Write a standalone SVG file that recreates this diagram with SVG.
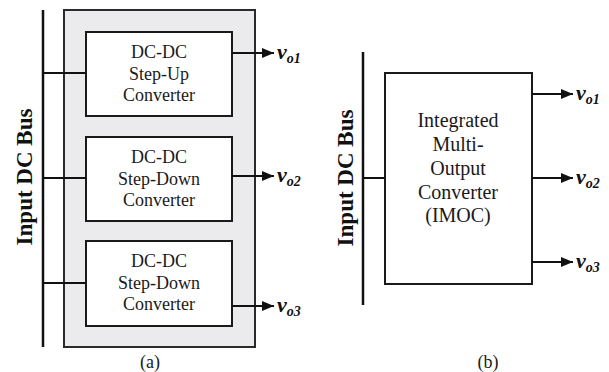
<svg xmlns="http://www.w3.org/2000/svg" width="609" height="372" viewBox="0 0 609 372">
  <defs>
    <style>
      .box { fill: #ffffff; stroke: #1a1a1a; stroke-width: 2; }
      .frame { fill: #ebebed; stroke: #2a2a2a; stroke-width: 2; }
      .wire { fill: none; stroke: #111111; stroke-width: 2; }
      .bus { fill: none; stroke: #111111; stroke-width: 2.5; }
      .lbl { font-family: "Liberation Serif", "Times New Roman", serif; font-size: 18px; fill: #1a1a1a; text-anchor: middle; }
      .lbl2 { font-family: "Liberation Serif", "Times New Roman", serif; font-size: 20px; fill: #1a1a1a; text-anchor: middle; }
      .busl { font-family: "Liberation Serif", "Times New Roman", serif; font-size: 23px; font-weight: bold; fill: #111111; text-anchor: middle; }
      .vout { font-family: "Liberation Serif", "Times New Roman", serif; font-size: 22px; font-weight: bold; font-style: italic; fill: #111111; }
      .sub { font-size: 14px; }
      .cap { font-family: "Liberation Serif", "Times New Roman", serif; font-size: 18px; fill: #1a1a1a; text-anchor: middle; }
    </style>
    <marker id="arr" markerWidth="12" markerHeight="10" refX="12" refY="5" orient="auto" markerUnits="userSpaceOnUse">
      <path d="M0,0 L12,5 L0,10 Z" fill="#111111"/>
    </marker>
  </defs>

  <!-- (a) separate converters -->
  <g id="frame-a">
    <rect class="frame" x="64" y="10" width="191" height="337"/>
  </g>
  <g id="bus-a">
    <line class="bus" x1="43" y1="10" x2="43" y2="347"/>
    <text class="busl" transform="translate(32,177) rotate(-90)">Input DC Bus</text>
  </g>
  <g id="conv-up">
    <rect class="box" x="86" y="32" width="146" height="84"/>
    <text class="lbl" x="159" y="58">DC-DC</text>
    <text class="lbl" x="159" y="80">Step-Up</text>
    <text class="lbl" x="159" y="101">Converter</text>
  </g>
  <g id="conv-down1">
    <rect class="box" x="86" y="137" width="146" height="84"/>
    <text class="lbl" x="159" y="163">DC-DC</text>
    <text class="lbl" x="159" y="185">Step-Down</text>
    <text class="lbl" x="159" y="206">Converter</text>
  </g>
  <g id="conv-down2">
    <rect class="box" x="86" y="241" width="146" height="85"/>
    <text class="lbl" x="159" y="267">DC-DC</text>
    <text class="lbl" x="159" y="289">Step-Down</text>
    <text class="lbl" x="159" y="310">Converter</text>
  </g>
  <g id="outputs-a">
    <text class="vout" x="277" y="59">v<tspan class="sub" dy="4">o1</tspan></text>
    <text class="vout" x="277" y="182">v<tspan class="sub" dy="4">o2</tspan></text>
    <text class="vout" x="277" y="312">v<tspan class="sub" dy="4">o3</tspan></text>
  </g>
  <g id="connectors-a">
    <line class="wire" x1="43" y1="73" x2="86" y2="73"/>
    <line class="wire" x1="43" y1="178" x2="86" y2="178"/>
    <line class="wire" x1="43" y1="283" x2="86" y2="283"/>
    <line class="wire" x1="232" y1="53" x2="274" y2="53" marker-end="url(#arr)"/>
    <line class="wire" x1="232" y1="176" x2="274" y2="176" marker-end="url(#arr)"/>
    <line class="wire" x1="232" y1="306" x2="274" y2="306" marker-end="url(#arr)"/>
  </g>
  <text class="cap" x="150" y="368">(a)</text>

  <!-- (b) integrated converter -->
  <g id="bus-b">
    <line class="bus" x1="363" y1="52" x2="363" y2="305"/>
    <text class="busl" transform="translate(353,178) rotate(-90)">Input DC Bus</text>
  </g>
  <g id="imoc">
    <rect class="box" x="385" y="73" width="147" height="211"/>
    <text class="lbl2" x="458" y="127">Integrated</text>
    <text class="lbl2" x="458" y="151">Multi-</text>
    <text class="lbl2" x="458" y="175">Output</text>
    <text class="lbl2" x="458" y="199">Converter</text>
    <text class="lbl2" x="458" y="222">(IMOC)</text>
  </g>
  <g id="outputs-b">
    <text class="vout" x="576" y="100">v<tspan class="sub" dy="4">o1</tspan></text>
    <text class="vout" x="576" y="184">v<tspan class="sub" dy="4">o2</tspan></text>
    <text class="vout" x="576" y="268">v<tspan class="sub" dy="4">o3</tspan></text>
  </g>
  <g id="connectors-b">
    <line class="wire" x1="363" y1="178" x2="385" y2="178"/>
    <line class="wire" x1="532" y1="94" x2="573" y2="94" marker-end="url(#arr)"/>
    <line class="wire" x1="532" y1="178" x2="573" y2="178" marker-end="url(#arr)"/>
    <line class="wire" x1="532" y1="262" x2="573" y2="262" marker-end="url(#arr)"/>
  </g>
  <text class="cap" x="488" y="368">(b)</text>
</svg>
